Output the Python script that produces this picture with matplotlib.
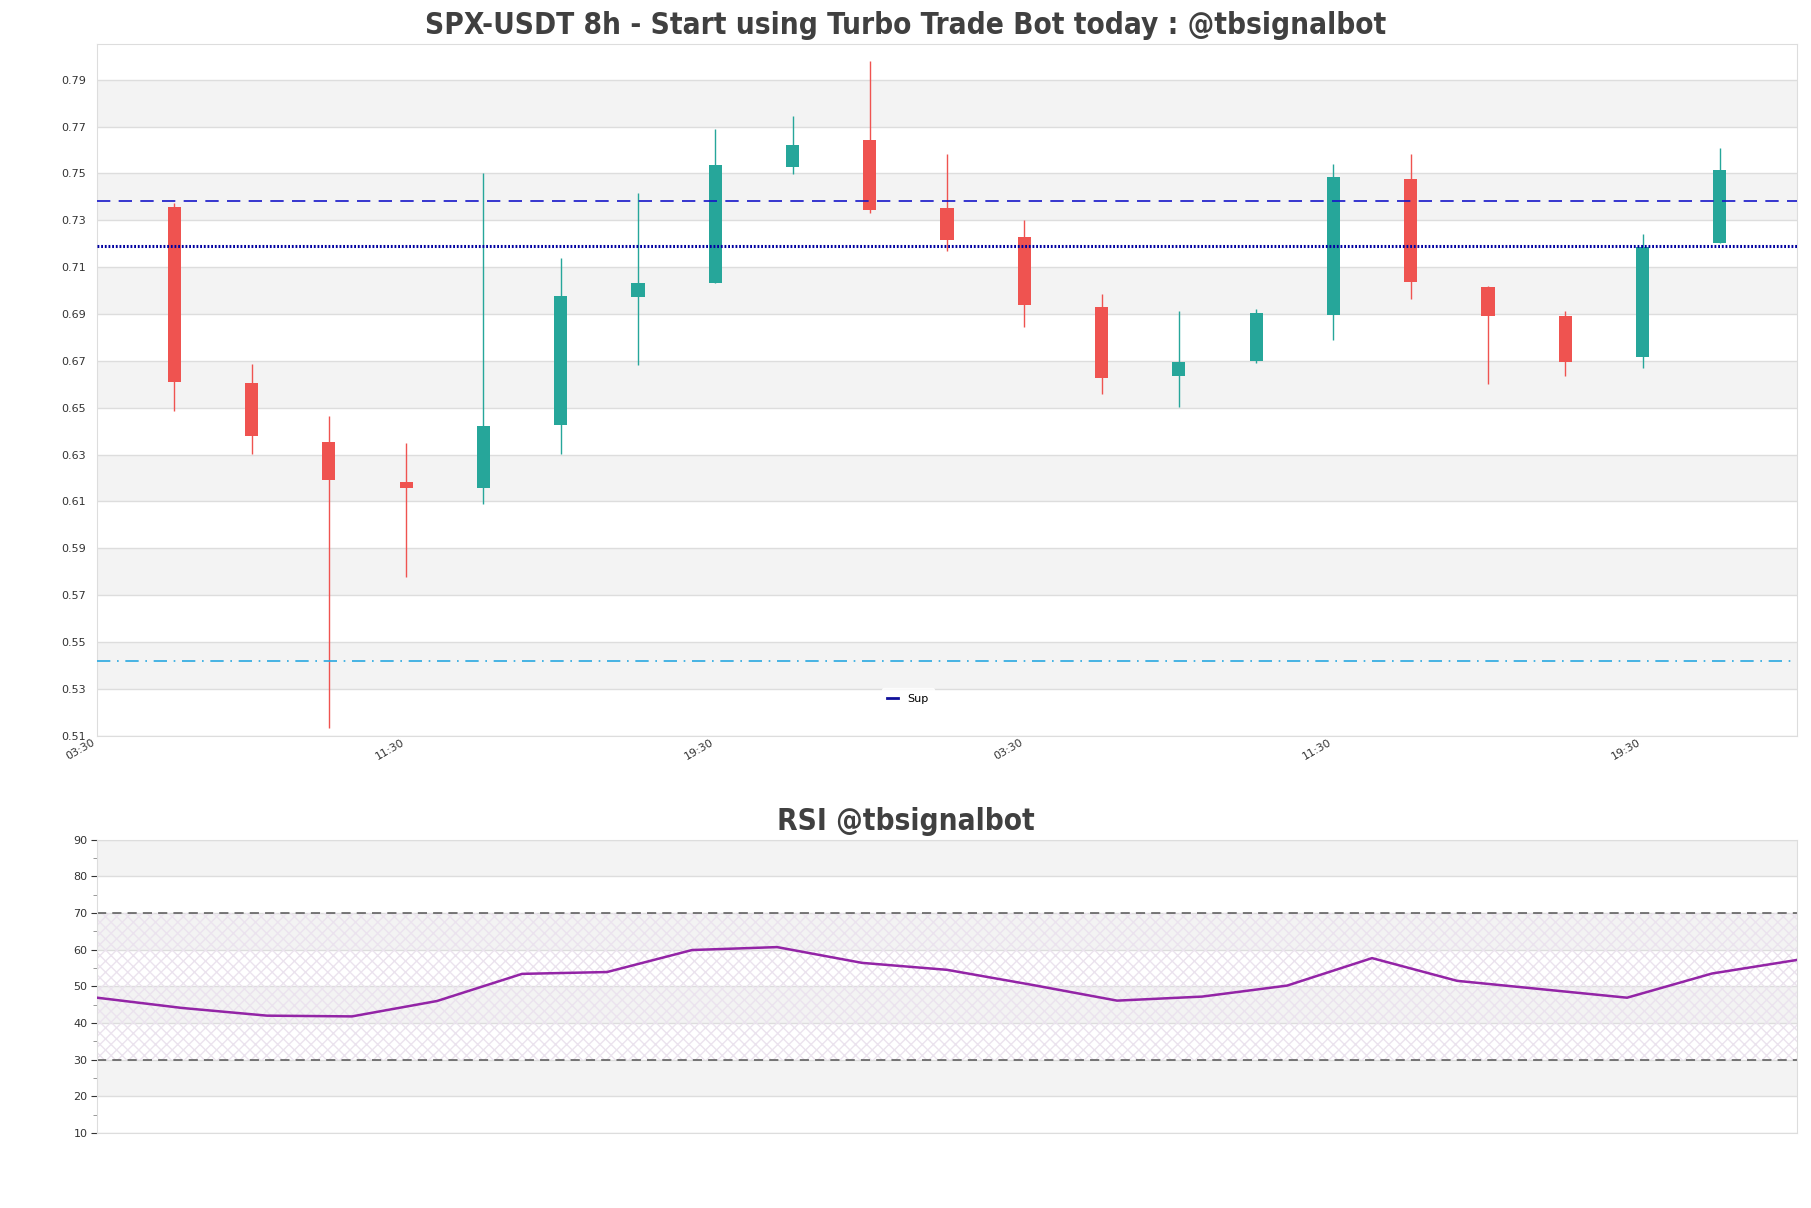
import matplotlib
matplotlib.use("Agg")
import matplotlib.pyplot as plt
from matplotlib.lines import Line2D
import numpy as np

# ---- data ----
opens  = [0.7358, 0.6607, 0.6354, 0.6182, 0.6159, 0.6425, 0.6973, 0.7033, 0.7528, 0.7643,
          0.7351, 0.7228, 0.6931, 0.6637, 0.6699, 0.6894, 0.7476, 0.7016, 0.6893, 0.6716, 0.7205]
closes = [0.6609, 0.6377, 0.6193, 0.6159, 0.6423, 0.6977, 0.7032, 0.7535, 0.7620, 0.7344,
          0.7216, 0.6939, 0.6628, 0.6696, 0.6906, 0.7484, 0.7035, 0.6890, 0.6694, 0.7188, 0.7514]
highs  = [0.7375, 0.6688, 0.6465, 0.6351, 0.7500, 0.7140, 0.7417, 0.7688, 0.7744, 0.7978,
          0.7582, 0.7300, 0.6985, 0.6912, 0.6920, 0.7540, 0.7582, 0.7020, 0.6913, 0.7242, 0.7608]
lows   = [0.6484, 0.6301, 0.5134, 0.5776, 0.6090, 0.6301, 0.6684, 0.7033, 0.7496, 0.7333,
          0.7169, 0.6845, 0.6560, 0.6503, 0.6690, 0.6788, 0.6965, 0.6601, 0.6635, 0.6669, 0.7205]
rsi = [46.9, 44.1, 42.0, 41.8, 46.0, 53.4, 53.9, 59.9, 60.7, 56.4, 54.5,
       50.4, 46.1, 47.2, 50.2, 57.7, 51.5, 49.2, 46.9, 53.5, 57.2]
resistance_level = 0.7384
sup_level = 0.7191
low_level = 0.5420
x_tick_labels = ["03:30", "11:30", "19:30", "03:30", "11:30", "19:30"]
x_tick_pos = [-1, 3, 7, 11, 15, 19]
y_ticks = [0.51, 0.53, 0.55, 0.57, 0.59, 0.61, 0.63, 0.65, 0.67, 0.69, 0.71, 0.73, 0.75, 0.77, 0.79]
rsi_ticks = [10, 20, 30, 40, 50, 60, 70, 80, 90]

UP = "#26a69a"
DOWN = "#ef5350"
GRID = "#dddddd"
BAND = "#f3f3f3"
TXT = "#404040"

fig = plt.figure(figsize=(18.11, 12.08), dpi=100)
ax = fig.add_axes([0.0536, 0.391, 0.9387, 0.5727])
ax2 = fig.add_axes([0.0536, 0.0621, 0.9387, 0.2428])

# ---- main candle chart ----
ymin, ymax = 0.51, 0.8053
for i, t in enumerate(y_ticks[:-1]):
    if i % 2 == 1:
        ax.axhspan(t, y_ticks[i + 1], color=BAND, zorder=0, lw=0)
for t in y_ticks:
    ax.axhline(t, color=GRID, lw=1, zorder=0.5)

x = np.arange(len(opens))
w = 0.17
for xi, o, c, h, l in zip(x, opens, closes, highs, lows):
    col = UP if c >= o else DOWN
    ax.vlines(xi, l, h, color=col, lw=1, zorder=2)
    ax.bar(xi, abs(c - o) if abs(c - o) > 0.0006 else 0.0012, bottom=min(o, c),
           width=w, color=col, lw=0, zorder=3)

ax.axhline(resistance_level, color="#1515c8", lw=1.2, ls=(0, (8, 5)), zorder=4)
ax.axhline(sup_level, color="#0000a0", lw=2.2, ls=(0, (0.6, 0.6)), zorder=4)
ax.axhline(low_level, color="#29a8e0", lw=1.2, ls=(0, (8, 4, 1, 4)), zorder=4)

ax.set_xlim(-1, 21)
ax.set_ylim(ymin, ymax)
ax.set_yticks(y_ticks)
ax.set_yticklabels([f"{v:.2f}" for v in y_ticks])
ax.set_xticks(x_tick_pos)
ax.set_xticklabels(x_tick_labels, rotation=30, ha="right")
ax.tick_params(axis="y", length=0, labelsize=8, colors="#333333", pad=8)
ax.tick_params(axis="x", length=0, labelsize=8, colors="#333333", pad=1)
for s in ax.spines.values():
    s.set_color(GRID)
leg = ax.legend(handles=[Line2D([], [], color="#10109a", lw=2)], labels=["Sup"],
                loc="lower center", bbox_to_anchor=(0.477, 0.03), fontsize=8,
                frameon=True, handlelength=1.0, borderpad=0.5)
leg.get_frame().set_edgecolor("white")
leg.get_frame().set_facecolor("white")

fig.text(0.5, 0.979, "SPX-USDT 8h - Start using Turbo Trade Bot today : @tbsignalbot",
         ha="center", va="center", fontsize=21.3, fontweight="bold", color=TXT,
         fontstretch="condensed")

# ---- RSI ----
for lo, hi in [(80, 90), (60, 70), (40, 50), (20, 30)]:
    ax2.axhspan(lo, hi, color=BAND, zorder=0, lw=0)
ax2.axhspan(30, 70, facecolor="none", hatch="xxx", edgecolor="#ebe3ee", lw=0, zorder=0.6)
for t in rsi_ticks:
    ax2.axhline(t, color=GRID, lw=1, zorder=0.5)
ax2.axhline(70, color="#555555", lw=1.1, ls=(0, (6, 4)), zorder=2)
ax2.axhline(30, color="#555555", lw=1.1, ls=(0, (6, 4)), zorder=2)
ax2.plot(np.arange(len(rsi)), rsi, color="#9324a6", lw=1.8, zorder=3)
ax2.set_xlim(0, len(rsi) - 1)
ax2.set_ylim(10, 90)
ax2.set_yticks(rsi_ticks)
ax2.set_yticks(np.arange(15, 90, 10), minor=True)
ax2.set_xticks([])
ax2.tick_params(axis="y", which="major", length=4, labelsize=8, colors="#333333", pad=3)
ax2.tick_params(axis="y", which="minor", length=3, colors="#888888")
for s in ax2.spines.values():
    s.set_color(GRID)
fig.text(0.5, 0.320, "RSI @tbsignalbot", ha="center", va="center", fontsize=21.3,
         fontweight="bold", color=TXT, fontstretch="condensed")

fig.savefig("out.png", dpi=100, facecolor="white")
